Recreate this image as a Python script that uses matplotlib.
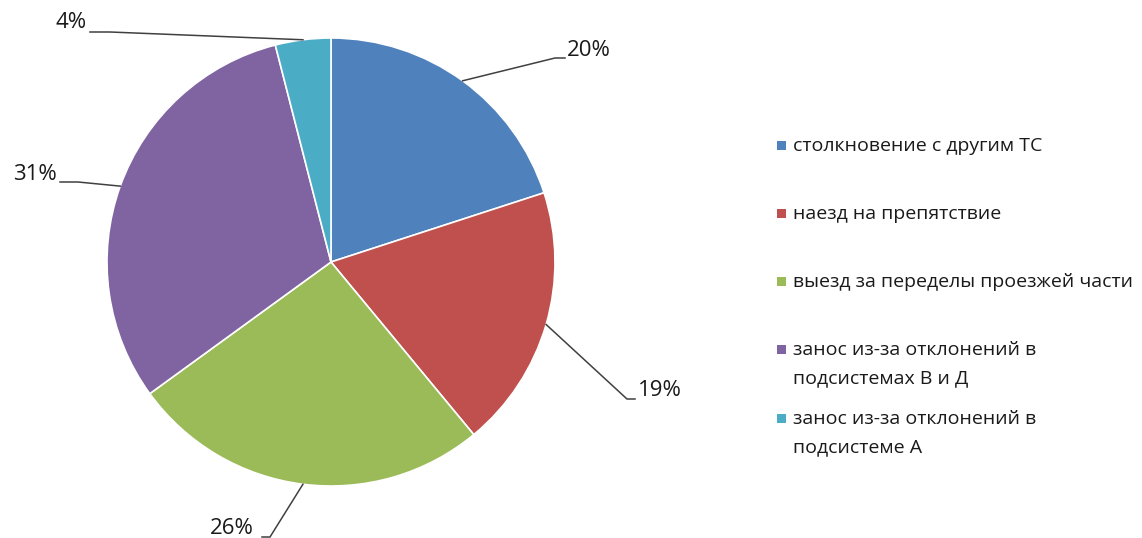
import numpy as np
import matplotlib
matplotlib.use('Agg')
import matplotlib.pyplot as plt

plt.rcParams['font.family'] = ['Open Sans', 'DejaVu Sans']

# shares of accident types, %
categories = ['столкновение с другим ТС',
              'наезд на препятствие',
              'выезд за переделы проезжей части',
              'занос из-за отклонений в\nподсистемах В и Д',
              'занос из-за отклонений в\nподсистеме А']
shares = [20, 19, 26, 31, 4]
pct_labels = ['20%', '19%', '26%', '31%', '4%']
colors = ['#4F81BD', '#C0504D', '#9BBB59', '#8064A2', '#4BACC6']

W, H = 1142, 538
cx, cy, R = 331, 262, 224

fig = plt.figure(figsize=(W / 100, H / 100), dpi=100)
ax = fig.add_axes([(cx - R) / W, (H - cy - R) / H, 2 * R / W, 2 * R / H])

wedges, _ = ax.pie(shares, colors=colors, startangle=90, counterclock=False,
                   radius=1, center=(0, 0), frame=True,
                   wedgeprops=dict(edgecolor='white', linewidth=1.2))
ax.set_xlim(-1, 1)
ax.set_ylim(-1, 1)
ax.set_aspect('equal')
ax.axis('off')


def px(x, y):
    # pixel position -> data coords of the pie axes
    return (x - cx) / R, (cy - y) / R


# leader line: elbow point, end of short tail, text anchor (all in px)
leaders = [
    ((555, 58), (565, 58), (567, 50), 'left'),
    ((627, 399), (635, 399), (638, 390), 'left'),
    ((270, 537), (262, 537), (254, 529), 'right'),
    ((78, 182), (60, 182), (57, 174), 'right'),
    ((110, 32), (90, 32), (87, 23), 'right'),
]

for w, lab, (elb, tail, txt, ha) in zip(wedges, pct_labels, leaders):
    th = np.deg2rad((w.theta1 + w.theta2) / 2)
    ex, ey = np.cos(th), np.sin(th)
    bx, by = px(*elb)
    tx, ty = px(*tail)
    ax.plot([ex, bx, tx], [ey, by, ty], color='#404040', lw=1.1,
            clip_on=False, solid_joinstyle='miter')
    lx, ly = px(*txt)
    ax.text(lx, ly, lab, ha=ha, va='center', fontsize=16,
            color='#1a1a1a', clip_on=False)

# legend
leg_y = [145, 213, 281, 349, 418]
for col, name, y in zip(colors, categories, leg_y):
    fig.patches.append(plt.Rectangle((777 / W, (H - y - 4.5) / H), 9 / W, 9 / H,
                                     transform=fig.transFigure, facecolor=col,
                                     edgecolor='none'))
    fig.text(793 / W, (H - y + 8) / H, name, ha='left', va='top', fontsize=14,
             color='#1a1a1a', linespacing=1.7,
             transform=fig.transFigure)

fig.savefig('out.png', dpi=100, facecolor='white')
